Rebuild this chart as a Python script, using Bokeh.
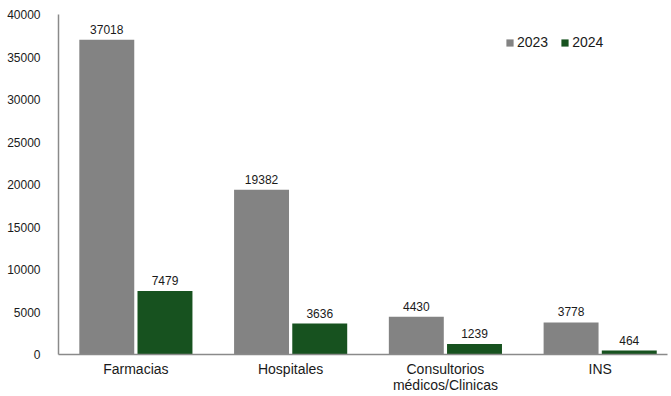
from bokeh.plotting import figure
from bokeh.models import ColumnDataSource, Range1d, FixedTicker, Legend, LegendItem, LabelSet
from bokeh.core.properties import value
from bokeh.embed import file_html
from bokeh.resources import INLINE

categories = ["Farmacias", "Hospitales", "Consultorios\nmédicos/Clinicas", "INS"]
series_names = ["2023", "2024"]
values_2023 = [37018, 19382, 4430, 3778]
values_2024 = [7479, 3636, 1239, 464]
y_ticks = [0, 5000, 10000, 15000, 20000, 25000, 30000, 35000, 40000]

GRAY = "#838383"
GREEN = "#17521f"
FONT = "Liberation Sans"

xs = list(range(len(categories)))
off = 0.188
bw = 0.355

src23 = ColumnDataSource(dict(x=[x - off for x in xs], top=values_2023, lbl=[str(v) for v in values_2023]))
src24 = ColumnDataSource(dict(x=[x + off for x in xs], top=values_2024, lbl=[str(v) for v in values_2024]))

p = figure(width=671, height=396, output_backend="svg", toolbar_location=None,
           x_range=Range1d(-0.5, 3.435), y_range=Range1d(0, 40000),
           min_border_left=58, min_border_right=4, min_border_top=14, min_border_bottom=41)
p.outline_line_color = None
p.xgrid.visible = False
p.ygrid.visible = False
p.background_fill_color = "white"

r23 = p.vbar(x="x", top="top", width=bw, source=src23, fill_color=GRAY, line_color=None)
r24 = p.vbar(x="x", top="top", width=bw, source=src24, fill_color=GREEN, line_color=None)

for s in (src23, src24):
    p.add_layout(LabelSet(x="x", y="top", text="lbl", source=s, text_align="center",
                          text_baseline="bottom", y_offset=6, text_font=value(FONT),
                          text_font_size=value("12px"), text_color="#1a1a1a"))

p.xaxis.ticker = FixedTicker(ticks=xs)
p.xaxis.major_label_overrides = {i: c for i, c in enumerate(categories)}
p.yaxis.ticker = FixedTicker(ticks=y_ticks)
for ax in (p.xaxis, p.yaxis):
    ax.axis_line_color = "#8a8a8a"
    ax.axis_line_width = 1.5
    ax.major_tick_line_color = None
    ax.minor_tick_line_color = None
    ax.major_label_text_font = FONT
    ax.major_label_text_color = "#1a1a1a"
p.xaxis.major_label_text_font_size = "14px"
p.xaxis.major_label_text_line_height = 1.05
p.xaxis.major_label_standoff = 0
p.yaxis.major_label_text_font_size = "12px"
p.yaxis.major_label_standoff = 12

legend = Legend(items=[LegendItem(label=series_names[0], renderers=[r23]),
                       LegendItem(label=series_names[1], renderers=[r24])],
                orientation="horizontal", location=(447, 304),
                glyph_width=9, glyph_height=9, label_standoff=3, spacing=12,
                padding=0, margin=0, border_line_color=None, background_fill_alpha=0,
                label_text_font=FONT, label_text_font_size="14px", label_text_color="#1a1a1a")
p.add_layout(legend)

open("out.html", "w").write(file_html(p, INLINE))
